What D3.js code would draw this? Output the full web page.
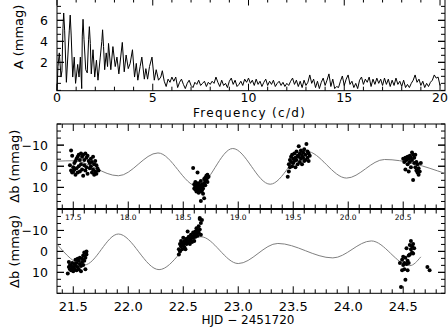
<!DOCTYPE html>
<html><head><meta charset="utf-8">
<script src="https://cdn.jsdelivr.net/npm/d3@7"></script>
<style>body{margin:0;background:#fff}svg{display:block}text{font-family:"DejaVu Sans",sans-serif;fill:#000}</style>
</head><body><svg id="c" width="448" height="327"></svg>
<script>
// ---------- amplitude spectrum ----------
const freqs = [0,0.05,0.12,0.21,0.26,0.31,0.35,0.40,0.49,0.64,0.69,0.74,0.82,0.9,0.97,1.08,1.15,1.22,1.29,1.32,1.36,1.41,1.5,1.58,1.65,1.69,1.74,1.79,1.88,1.97,2.06,2.14,2.26,2.34,2.38,2.43,2.49,2.57,2.64,2.69,2.81,2.92,3.04,3.13,3.23,3.41,3.51,3.61,3.72,3.82,3.94,4.05,4.14,4.22,4.34,4.43,4.56,4.64,4.73,4.83,4.96,5.08,5.18,5.3,5.42,
 5.5,5.6,5.7,5.8,5.9,6.0,6.1,6.2,6.3,6.4,6.5,6.6,6.7,6.8,6.9,7.0,7.1,7.2,7.3,7.4,7.5,7.6,7.7,7.8,7.9,8.0,8.1,8.2,8.3,8.4,8.5,8.6,8.7,8.8,8.9,9.0,9.1,9.2,9.3,9.4,9.5,9.6,9.7,9.8,9.9,10.0,10.1,10.2,10.3,10.4,10.5,10.6,10.7,10.8,10.9,11.0,11.1,11.2,11.3,11.4,11.5,11.6,11.7,11.8,11.9,12.0,12.1,12.2,12.3,12.4,12.5,12.6,12.7,12.8,12.9,13.0,13.1,13.2,13.3,13.4,13.5,13.6,13.7,13.8,13.9,14.0,14.1,14.2,14.3,14.4,14.5,14.6,14.7,14.8,14.9,15.0,15.1,15.2,15.3,15.4,15.5,15.6,15.7,15.8,15.9,16.0,16.1,16.2,16.3,16.4,16.5,16.6,16.7,16.8,16.9,17.0,17.1,17.2,17.3,17.4,17.5,17.6,17.7,17.8,17.9,18.0,18.1,18.2,18.3,18.4,18.5,18.6,18.7,18.8,18.9,19.0,19.1,19.2,19.3,19.4,19.5,19.6,19.7,19.8,19.9,20.0];
const amps = [-0.7,1.6,2.9,0.6,1.2,5.2,6.7,5.0,0.1,5.0,6.5,4.6,0.6,2.5,0.0,1.8,0.6,2.5,-0.5,4.5,6.1,4.2,1.3,1.0,4.2,5.4,3.8,0.9,3.2,0.6,2.2,0.3,2.5,4.0,5.1,3.5,1.3,2.9,1.6,3.8,1.3,3.5,1.6,2.5,0.9,3.9,1.1,2.7,1.4,1.9,3.2,0.6,1.9,0.3,1.6,2.5,0.4,1.4,0.4,1.6,2.5,0.3,1.3,0.3,0.6,
 1.2,0.2,-0.3,0.4,0.1,0.6,0.2,0.6,-0.4,0.1,0.4,-0.1,-0.5,0.0,0.3,-0.2,-0.4,0.1,-0.1,0.3,-0.2,0.0,0.2,-0.3,0.1,-0.1,0.2,0.0,0.6,0.1,-0.3,0.3,-0.2,0.0,-0.4,0.2,0.5,-0.1,0.3,-0.3,-0.1,0.2,-0.2,0.4,0.1,0.5,0.0,0.3,-0.2,0.4,-0.1,0.2,-0.3,0.1,0.4,-0.2,0.2,-0.1,0.3,-0.3,0.0,0.2,-0.2,0.1,-0.3,0.0,-0.2,0.2,0.5,-0.1,0.3,-0.3,0.2,-0.4,0.3,-0.2,0.1,0.8,0.0,0.4,-0.4,0.2,-0.5,0.1,0.5,-0.2,0.3,0.9,-0.3,0.4,-0.5,-0.3,-0.4,0.2,0.7,-0.2,0.4,0.8,-0.1,0.2,-0.4,0.0,-0.5,0.3,0.6,-0.1,0.4,0.1,0.6,-0.3,0.4,-0.1,0.5,0.0,0.4,-0.2,0.5,-0.1,0.4,-0.3,0.3,-0.2,0.5,-0.1,0.2,-0.3,0.3,-0.4,-0.1,-0.4,0.0,0.3,0.8,0.1,0.4,-0.2,0.2,-0.4,0.0,-0.3,0.1,0.3,0.8,0.5,0.6,-0.2];
const freqTicks = [0,5,10,15,20];
const ampTicks = [2,4,6];

// ---------- light curve, first night block ----------
const fitT1 = [17.352,17.50,17.91,18.27,18.63,18.95,19.29,19.62,19.985,20.33,20.88];
const fitV1 = [-2.4,-2.6,4.5,-6.3,9.5,-8.4,8.5,-7.1,5.6,-3.2,3.4];
const obsT1 = [17.47,17.48,17.48,17.49,17.49,17.50,17.50,17.51,17.51,17.52,17.52,17.53,17.53,17.54,17.54,17.55,17.55,17.56,17.56,17.57,17.57,17.58,17.58,17.59,17.59,17.60,17.60,17.61,17.61,17.62,17.62,17.63,17.63,17.64,17.65,17.65,17.66,17.66,17.67,17.67,17.68,17.68,17.69,17.69,17.70,17.70,17.71,17.71,17.72,17.73,
 18.59,18.60,18.60,18.61,18.61,18.61,18.62,18.62,18.62,18.63,18.63,18.63,18.64,18.64,18.64,18.65,18.65,18.66,18.66,18.66,18.67,18.67,18.68,18.68,18.69,18.69,18.70,18.70,18.70,18.71,18.71,18.72,18.72,18.72,18.73,18.66,18.65,18.69,18.68,
 19.45,19.46,19.46,19.47,19.47,19.48,19.48,19.49,19.49,19.50,19.50,19.51,19.51,19.52,19.52,19.53,19.53,19.54,19.54,19.55,19.55,19.56,19.56,19.57,19.57,19.58,19.58,19.59,19.59,19.60,19.60,19.61,19.61,19.62,19.63,19.63,19.64,19.64,19.65,
 20.50,20.51,20.52,20.52,20.53,20.54,20.54,20.55,20.55,20.56,20.56,20.57,20.57,20.58,20.58,20.59,20.59,20.60,20.60,20.61,20.61,20.62,20.62,20.63,20.63,20.64,20.64,20.65,20.66];
const obsV1 = [-0.5,-7.5,2.0,-5.0,3.0,0.5,2.5,-1.5,1.5,-2.5,4.0,-3.5,1.0,-4.5,3.0,-5.5,0.0,-3.0,2.5,-6.0,-1.0,-4.5,1.5,-5.5,4.5,-3.0,-0.5,-6.0,2.0,-4.0,0.5,-5.0,3.5,-2.5,-1.5,1.0,-3.5,0.0,-2.0,3.0,-4.5,1.5,-1.0,4.0,-2.5,2.5,-0.5,3.5,1.0,2.0,
 0.8,8.5,10.5,7.5,9.5,11.0,8.0,10.0,12.0,3.0,9.0,11.5,8.0,10.5,12.5,9.5,11.0,7.0,10.0,12.0,8.5,11.5,9.0,10.5,6.0,8.0,5.5,7.0,9.0,4.5,6.5,4.0,5.5,7.5,5.0,16.5,24.5,15.2,13.0,
 5.0,2.5,-1.0,0.5,-3.0,-2.0,-4.5,0.0,-5.5,-1.5,-3.5,-6.0,-2.5,-4.0,0.5,-7.0,-3.0,-5.0,-1.0,-9.5,-4.5,-6.0,-2.0,-7.5,-3.5,-5.0,-1.0,-6.5,-4.0,-8.0,-2.5,-5.5,-3.0,-10.5,-7.0,-4.0,-6.0,-2.5,-5.0,
 -3.5,-2.0,1.5,-4.0,-3.0,-4.5,-1.0,2.5,-3.5,-5.0,-2.0,-4.0,0.5,-6.5,-3.0,-5.5,6.5,-1.5,-4.0,0.5,-5.5,2.0,-2.0,-1.0,3.0,1.0,4.0,2.5,-1.5];
const hjdTicks1 = [17.5,18.0,18.5,19.0,19.5,20.0,20.5];

// ---------- light curve, second night block ----------
const fitT2 = [21.352,21.60,21.91,22.28,22.66,23.00,23.36,23.86,24.21,24.56,24.66];
const fitV2 = [-3.4,6.5,-8.3,8.7,-7.0,5.8,-3.8,3.1,-5.0,6.8,2.6];
const obsT2 = [21.45,21.46,21.46,21.47,21.47,21.48,21.48,21.49,21.49,21.50,21.50,21.51,21.51,21.52,21.52,21.53,21.53,21.54,21.54,21.55,21.55,21.56,21.56,21.57,21.57,21.58,21.58,21.59,21.59,21.60,21.60,21.61,21.61,21.62,21.62,
 22.46,22.46,22.47,22.47,22.48,22.48,22.49,22.49,22.50,22.50,22.51,22.51,22.52,22.52,22.53,22.53,22.54,22.54,22.55,22.55,22.56,22.56,22.57,22.57,22.58,22.58,22.59,22.59,22.60,22.60,22.61,22.61,22.62,22.62,22.63,22.63,22.64,22.64,22.65,22.65,22.66,22.66,22.67,
 24.47,24.48,24.49,24.49,24.50,24.50,24.51,24.51,24.52,24.52,24.53,24.53,24.54,24.54,24.55,24.55,24.56,24.56,24.57,24.57,24.58,24.58,24.59,24.59,24.60,24.72,24.74];
const obsV2 = [10.5,7.5,5.0,8.5,6.5,9.0,7.0,8.0,5.5,9.5,7.5,8.5,6.0,4.0,7.0,9.0,5.5,3.5,7.5,4.5,8.5,6.0,3.0,7.0,9.5,5.0,3.5,6.5,2.0,4.5,0.5,8.5,3.0,1.5,0.0,
 -1.0,1.5,-3.5,0.0,-2.5,-5.0,-1.0,-4.0,-3.0,-6.5,-2.0,-5.0,-4.0,-1.0,-6.0,-3.5,-5.0,-9.5,-4.5,-7.0,-6.0,-3.5,-8.0,-5.5,-7.0,-4.5,-9.0,-6.5,-8.0,-5.0,-9.5,-7.0,-11.0,-8.5,-10.0,-7.5,-12.0,-9.0,-10.5,-15.5,-13.5,-8.0,-15.0,
 5.5,17.0,9.0,4.0,6.5,2.5,8.5,5.5,13.5,3.0,6.0,-1.5,4.5,9.0,2.0,5.5,-3.0,1.5,-5.0,-1.0,0.5,-2.5,1.0,-3.5,-1.5,7.5,9.0];
const hjdTicks2 = [21.5,22.0,22.5,23.0,23.5,24.0,24.5];
const magTicks = [-10,0,10];

// ---------- drawing ----------
const svg = d3.select('#c');
const L = 57, R = 445;
const fmt1 = d3.format('.1f');
const minus = s => String(s).replace('-', '\u2212');

function frame(x, y, opts){
  const g = svg.append('g');
  const [x0,x1] = x.range(), [yb,yt] = y.range();
  const top = Math.min(yb,yt), bot = Math.max(yb,yt);
  g.append('rect').attr('x',x0).attr('y',top).attr('width',x1-x0).attr('height',bot-top)
    .attr('fill','none').attr('stroke','#000').attr('stroke-width',1);
  opts.xMinor.forEach(v=>{
    const px = x(v), len = opts.xMajor.includes(v)?opts.xMajLen:opts.xMinLen;
    g.append('line').attr('x1',px).attr('x2',px).attr('y1',bot).attr('y2',bot-len).attr('stroke','#000');
    g.append('line').attr('x1',px).attr('x2',px).attr('y1',top).attr('y2',top+len).attr('stroke','#000');
  });
  opts.yMinor.forEach(v=>{
    const py = y(v), len = opts.yMajor.includes(v)?opts.yMajLen:opts.yMinLen;
    g.append('line').attr('x1',x0).attr('x2',x0+len).attr('y1',py).attr('y2',py).attr('stroke','#000');
    g.append('line').attr('x1',x1).attr('x2',x1-len).attr('y1',py).attr('y2',py).attr('stroke','#000');
  });
  return g;
}
function range(a,b,s){const o=[];for(let v=a;v<=b+1e-9;v+=s)o.push(+v.toFixed(4));return o;}

// Panel 1: spectrum (top edge of the frame sits just above the picture)
const xF = d3.scaleLinear().domain([0,20.26]).range([L,R]);
const yA = d3.scaleLinear().domain([-0.7,8.08]).range([90.7,-1.5]);
frame(xF,yA,{xMajor:freqTicks,xMinor:range(0,20,1),xMajLen:7,xMinLen:4,
  yMajor:ampTicks,yMinor:range(-0.6667,8,0.6667).map(v=>+v.toFixed(2)).concat(ampTicks),yMajLen:7,yMinLen:4});
svg.append('path').datum(freqs.map((f,i)=>[f,amps[i]]))
  .attr('d',d3.line().x(d=>xF(d[0])).y(d=>yA(d[1])))
  .attr('fill','none').attr('stroke','#000').attr('stroke-width',1);
freqTicks.forEach(v=>svg.append('text').attr('x',xF(v)).attr('y',102).attr('text-anchor','middle').attr('font-size',12.5).text(v));
ampTicks.forEach(v=>svg.append('text').attr('x',48).attr('y',yA(v)+4.5).attr('text-anchor','end').attr('font-size',12.5).text(v));
svg.append('text').attr('x',(L+R)/2-2).attr('y',117).attr('text-anchor','middle').attr('font-size',12)
  .attr('textLength',112).attr('lengthAdjust','spacing').text('Frequency (c/d)');
svg.append('text').attr('transform','translate(23,37) rotate(-90)').attr('text-anchor','middle').attr('font-size',13).text('A (mmag)');

// Panels 2,3
function lcPanel(domain, top, bot, fitT, fitV, obsT, obsV, ticks){
  const x = d3.scaleLinear().domain(domain).range([L,R]);
  const y = d3.scaleLinear().domain([-20,20]).range([top,bot]);
  frame(x,y,{xMajor:ticks,xMinor:range(Math.ceil(domain[0]*10)/10,domain[1],0.1).filter(v=>v>domain[0]&&v<domain[1]),xMajLen:7,xMinLen:4,
    yMajor:magTicks,yMinor:range(-20,20,10/3).map(v=>+v.toFixed(2)).concat(magTicks),yMajLen:7,yMinLen:4});
  svg.append('path').datum(fitT.map((t,i)=>[t,fitV[i]]))
    .attr('d',d3.line().curve(d3.curveMonotoneX).x(d=>x(d[0])).y(d=>y(d[1])))
    .attr('fill','none').attr('stroke','#808080').attr('stroke-width',1);
  svg.append('g').selectAll('circle').data(obsT.map((t,i)=>[t,obsV[i]])).join('circle')
    .attr('cx',d=>x(d[0])).attr('cy',d=>y(d[1])).attr('r',2).attr('fill','#000');
  magTicks.forEach(v=>svg.append('text').attr('x',48).attr('y',y(v)+4.5).attr('text-anchor','end').attr('font-size',12.5).text(minus(v)));
  svg.append('text').attr('transform',`translate(19,${(top+bot)/2}) rotate(-90)`).attr('text-anchor','middle').attr('font-size',13).text('\u0394b (mmag)');
  return x;
}
const x2 = lcPanel([17.352,20.88],124,208.5,fitT1,fitV1,obsT1,obsV1,hjdTicks1);
hjdTicks1.forEach(v=>svg.append('text').attr('x',x2(v)).attr('y',220).attr('text-anchor','middle').attr('font-size',7.5).attr('font-family','Liberation Sans, Arial').text(fmt1(v)));
const x3 = lcPanel([21.352,24.88],209.5,293.3,fitT2,fitV2,obsT2,obsV2,hjdTicks2);
hjdTicks2.forEach(v=>svg.append('text').attr('x',x3(v)).attr('y',310.5).attr('text-anchor','middle').attr('font-size',13).text(fmt1(v)));
svg.append('text').attr('x',(L+R)/2-3).attr('y',324).attr('text-anchor','middle').attr('font-size',12).text('HJD \u2212 2451720');
</script></body></html>
